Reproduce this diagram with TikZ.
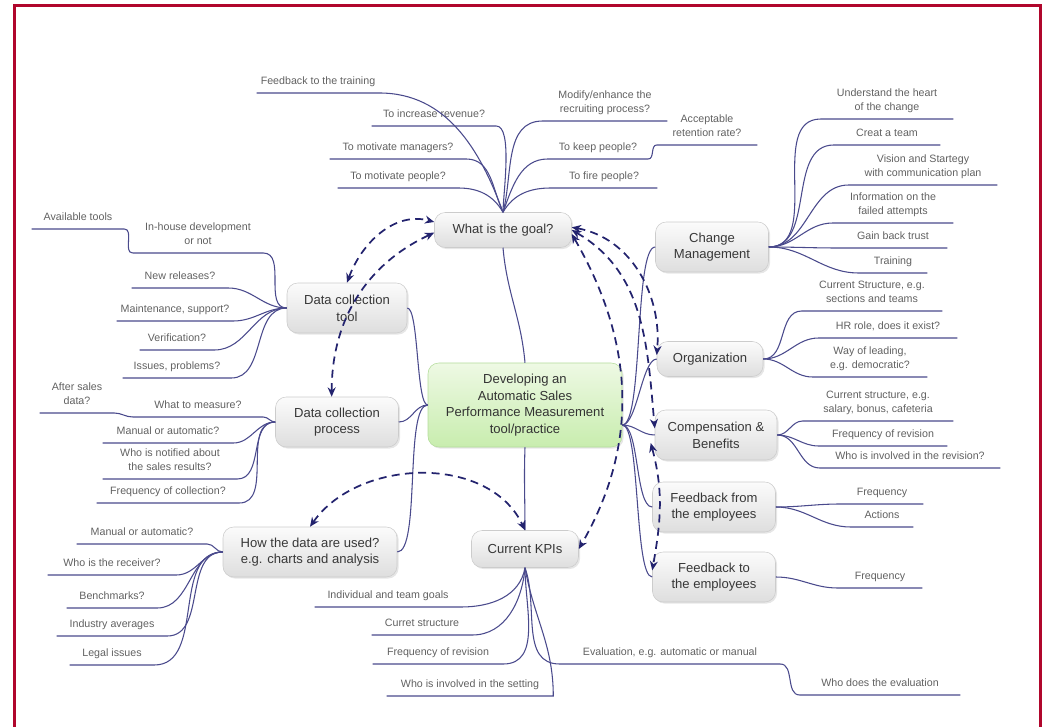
\documentclass[tikz,border=0pt]{standalone}
\usepackage{fontspec}
\setmainfont{Liberation Sans}
\usetikzlibrary{arrows.meta,shadows}
\definecolor{framecol}{HTML}{B0062C}
\definecolor{branchcol}{HTML}{4A4A8C}
\definecolor{dashcol}{HTML}{23236E}
\definecolor{greentop}{HTML}{EEF9E4}
\definecolor{greenbot}{HTML}{C8EDAE}
\definecolor{greenline}{HTML}{B4DC9C}
\begin{document}
\begin{tikzpicture}[x=0.75pt,y=-0.75pt,
  w/.style={minimum width=#1*0.75pt},
  h/.style={minimum height=#1*0.75pt},
  topic/.style={draw=gray!40, rounded corners=8pt, top color=gray!3, bottom color=gray!26,
    font=\fontsize{9.8}{12.5}\selectfont, text=black!78, align=center, inner sep=2pt,
    drop shadow={shadow xshift=1.2pt, shadow yshift=-1.2pt, opacity=0.2, fill=gray}},
  central/.style={topic, draw=greenline, top color=greentop, bottom color=greenbot, text=black!80},
  leaf/.style={anchor=south, inner xsep=0pt, inner ysep=3.5pt, text depth=2.5pt,
    font=\fontsize{8}{10.5}\selectfont, text=black!62, align=center},
  br/.style={draw=branchcol, line width=0.8pt},
  dl/.style={draw=dashcol, line width=1.3pt, dash pattern=on 6pt off 4pt,
    {Stealth[length=7pt,width=6pt]}-{Stealth[length=7pt,width=6pt]}}
]
\useasboundingbox (0,0) rectangle (1043,727);
\draw[framecol, line width=2.3pt, line join=miter] (14.7,727) -- (14.7,5.7) -- (1040.5,5.7) -- (1040.5,727);

% ---------- main topics ----------
\node[central, w=194, h=84] (ctr) at (525,405) {Developing an\\Automatic Sales\\Performance Measurement\\tool/practice};
\node[topic, w=137, h=35] (g) at (503,230) {What is the goal?};
\node[topic, w=113, h=50] (cm) at (712,247) {Change\\Management};
\node[topic, w=106, h=35] (org) at (710,359) {Organization};
\node[topic, w=122, h=50] (cb) at (716,435) {Compensation \&\\Benefits};
\node[topic, w=123, h=50] (ffe) at (714,507) {Feedback from\\the employees};
\node[topic, w=123, h=50] (fte) at (714,577) {Feedback to\\the employees};
\node[topic, w=107, h=37] (kpi) at (525,549) {Current KPIs};
\node[topic, w=120, h=50] (dct) at (347,308) {Data collection\\tool};
\node[topic, w=123, h=50] (dcp) at (337,422) {Data collection\\process};
\node[topic, w=174, h=50] (hdu) at (310,552) {How the data are used?\\e.g. charts and analysis};

% ---------- goal leaves ----------
\node[leaf, w=122] (fbt) at (318,93) {Feedback to the training};
\node[leaf, w=124] (tir) at (434,126) {To increase revenue?};
\node[leaf, w=136] (tmm) at (398,159) {To motivate managers?};
\node[leaf, w=120] (tmp) at (398,188) {To motivate people?};
\node[leaf, w=124] (mer) at (605,121) {Modify/enhance the\\recruiting process?};
\node[leaf, w=100] (tkp) at (598,159) {To keep people?};
\node[leaf, w=100] (arr) at (707,145) {Acceptable\\retention rate?};
\node[leaf, w=106] (tfp) at (604,188) {To fire people?};

% ---------- change management leaves ----------
\node[leaf, w=132] (uhc) at (887,119) {Understand the heart\\of the change};
\node[leaf, w=106] (cat) at (887,145) {Creat a team};
\node[leaf, w=148] (vsc) at (923,185) {Vision and Startegy\\with communication plan};
\node[leaf, w=120] (ifa) at (893,223) {Information on the\\failed attempts};
\node[leaf, w=108] (gbt) at (893,248) {Gain back trust};
\node[leaf, w=68] (trn) at (893,273) {Training};

% ---------- organization leaves ----------
\node[leaf, w=140] (cst) at (872,311) {Current Structure, e.g.\\sections and teams};
\node[leaf, w=138] (hrr) at (888,338) {HR role, does it exist?};
\node[leaf, w=114] (wol) at (870,377) {Way of leading,\\e.g. democratic?};

% ---------- compensation leaves ----------
\node[leaf, w=150] (csb) at (878,421) {Current structure, e.g.\\salary, bonus, cafeteria};
\node[leaf, w=128] (fre) at (883,446) {Frequency of revision};
\node[leaf, w=180] (wir) at (910,468) {Who is involved in the revision?};

% ---------- feedback leaves ----------
\node[leaf, w=82] (ffq) at (882,504) {Frequency};
\node[leaf, w=62] (fac) at (882,527) {Actions};
\node[leaf, w=84] (tfq) at (880,588) {Frequency};

% ---------- KPI leaves ----------
\node[leaf, w=146] (itg) at (388,607) {Individual and team goals};
\node[leaf, w=100] (cus) at (422,635) {Curret structure};
\node[leaf, w=130] (kfr) at (438,664) {Frequency of revision};
\node[leaf, w=166] (wis) at (470,696) {Who is involved in the setting};
\node[leaf, w=220] (evl) at (670,664) {Evaluation, e.g. automatic or manual};
\node[leaf, w=160] (wde) at (880,695) {Who does the evaluation};

% ---------- data collection tool leaves ----------
\node[leaf, w=130] (ihd) at (198,253) {In-house development\\or not};
\node[leaf, w=92] (avt) at (78,229) {Available tools};
\node[leaf, w=96] (nwr) at (180,288) {New releases?};
\node[leaf, w=116] (mts) at (175,321) {Maintenance, support?};
\node[leaf, w=74] (ver) at (177,350) {Verification?};
\node[leaf, w=108] (iss) at (177,378) {Issues, problems?};

% ---------- data collection process leaves ----------
\node[leaf, w=130] (wtm) at (198,417) {What to measure?};
\node[leaf, w=74] (asd) at (77,413) {After sales\\data?};
\node[leaf, w=130] (moa) at (168,443) {Manual or automatic?};
\node[leaf, w=134] (wnr) at (170,479) {Who is notified about\\the sales results?};
\node[leaf, w=142] (foc) at (168,503) {Frequency of collection?};

% ---------- how the data are used leaves ----------
\node[leaf, w=130] (hma) at (142,544) {Manual or automatic?};
\node[leaf, w=128] (wtr) at (112,575) {Who is the receiver?};
\node[leaf, w=90] (bmk) at (112,608) {Benchmarks?};
\node[leaf, w=110] (iav) at (112,636) {Industry averages};
\node[leaf, w=84] (lgi) at (112,665) {Legal issues};

% ---------- branches: centre to topics ----------
\draw[br] (ctr.north) to[out=95,in=-85] (g.south);
\draw[br] (dct.east) to[out=0,in=180,looseness=0.3] (ctr.west);
\draw[br] (dcp.east) to[out=0,in=180] (ctr.west);
\draw[br] (hdu.east) to[out=0,in=180,looseness=0.4] (ctr.west);
\draw[br] (ctr.south) to[out=-92,in=90] (kpi.north);
\draw[br] ([yshift=-15pt]ctr.east) to[out=0,in=180,looseness=0.3] (cm.west);
\draw[br] ([yshift=-15pt]ctr.east) to[out=0,in=180,looseness=0.5] (org.west);
\draw[br] ([yshift=-15pt]ctr.east) to[out=0,in=180] (cb.west);
\draw[br] ([yshift=-15pt]ctr.east) to[out=0,in=180,looseness=0.5] (ffe.west);
\draw[br] ([yshift=-15pt]ctr.east) to[out=0,in=180,looseness=0.3] (fte.west);

% ---------- branches: goal ----------
\draw[br] (g.north) to[out=110,in=0] (fbt.south east) -- (fbt.south west);
\draw[br] (g.north) to[out=90,in=0,looseness=0.5] (tir.south east) -- (tir.south west);
\draw[br] (g.north) to[out=115,in=0] (tmm.south east) -- (tmm.south west);
\draw[br] (g.north) to[out=120,in=0] (tmp.south east) -- (tmp.south west);
\draw[br] (g.north) to[out=75,in=180] (mer.south west) -- (mer.south east);
\draw[br] (g.north) to[out=70,in=180] (tkp.south west) -- (tkp.south east);
\draw[br] (g.north) to[out=60,in=180] (tfp.south west) -- (tfp.south east);
\draw[br] (tkp.south east) to[out=0,in=180] (arr.south west) -- (arr.south east);

% ---------- branches: right topics ----------
\foreach \l in {uhc,cat,vsc,ifa,gbt,trn}
  \draw[br] (cm.east) to[out=0,in=180] (\l.south west) -- (\l.south east);
\foreach \l in {cst,hrr,wol}
  \draw[br] (org.east) to[out=0,in=180] (\l.south west) -- (\l.south east);
\foreach \l in {csb,fre,wir}
  \draw[br] (cb.east) to[out=0,in=180] (\l.south west) -- (\l.south east);
\foreach \l in {ffq,fac}
  \draw[br] (ffe.east) to[out=0,in=180] (\l.south west) -- (\l.south east);
\draw[br] (fte.east) to[out=0,in=180] (tfq.south west) -- (tfq.south east);

% ---------- branches: KPIs ----------
\draw[br] (kpi.south) to[out=-100,in=0] (itg.south east) -- (itg.south west);
\draw[br] (kpi.south) to[out=-95,in=0] (cus.south east) -- (cus.south west);
\draw[br] (kpi.south) to[out=-90,in=0] (kfr.south east) -- (kfr.south west);
\draw[br] (kpi.south) to[out=-80,in=90] (wis.south east) -- (wis.south west);
\draw[br] (kpi.south) to[out=-70,in=180] (evl.south west) -- (evl.south east);
\draw[br] (evl.south east) to[out=0,in=180] (wde.south west) -- (wde.south east);

% ---------- branches: left topics ----------
\foreach \l in {ihd,nwr,mts,ver,iss}
  \draw[br] (dct.west) to[out=180,in=0] (\l.south east) -- (\l.south west);
\draw[br] (ihd.south west) to[out=180,in=0] (avt.south east) -- (avt.south west);
\foreach \l in {wtm,moa,wnr,foc}
  \draw[br] (dcp.west) to[out=180,in=0] (\l.south east) -- (\l.south west);
\draw[br] (wtm.south west) to[out=180,in=0] (asd.south east) -- (asd.south west);
\foreach \l in {hma,wtr,bmk,iav,lgi}
  \draw[br] (hdu.west) to[out=180,in=0] (\l.south east) -- (\l.south west);

% ---------- dashed relations ----------
\draw[dl] (dct.north) to[out=70,in=165] ([yshift=6pt]g.west);
\draw[dl] ([xshift=-4pt]dcp.north) to[out=90,in=205] ([yshift=-2pt]g.west);
\draw[dl] (hdu.north) to[out=55,in=115] (kpi.north);
\draw[dl] ([yshift=2pt]g.east) to[out=-10,in=85] ([yshift=3pt]org.west);
\draw[dl] (g.east) to[out=-30,in=95] ([yshift=5pt]cb.west);
\draw[dl] ([yshift=-3pt]g.east) to[out=-60,in=60] (kpi.east);
\draw[dl] ([xshift=-3pt,yshift=-6pt]cb.west) to[out=-75,in=80] ([yshift=5pt]fte.west);
\end{tikzpicture}
\end{document}
